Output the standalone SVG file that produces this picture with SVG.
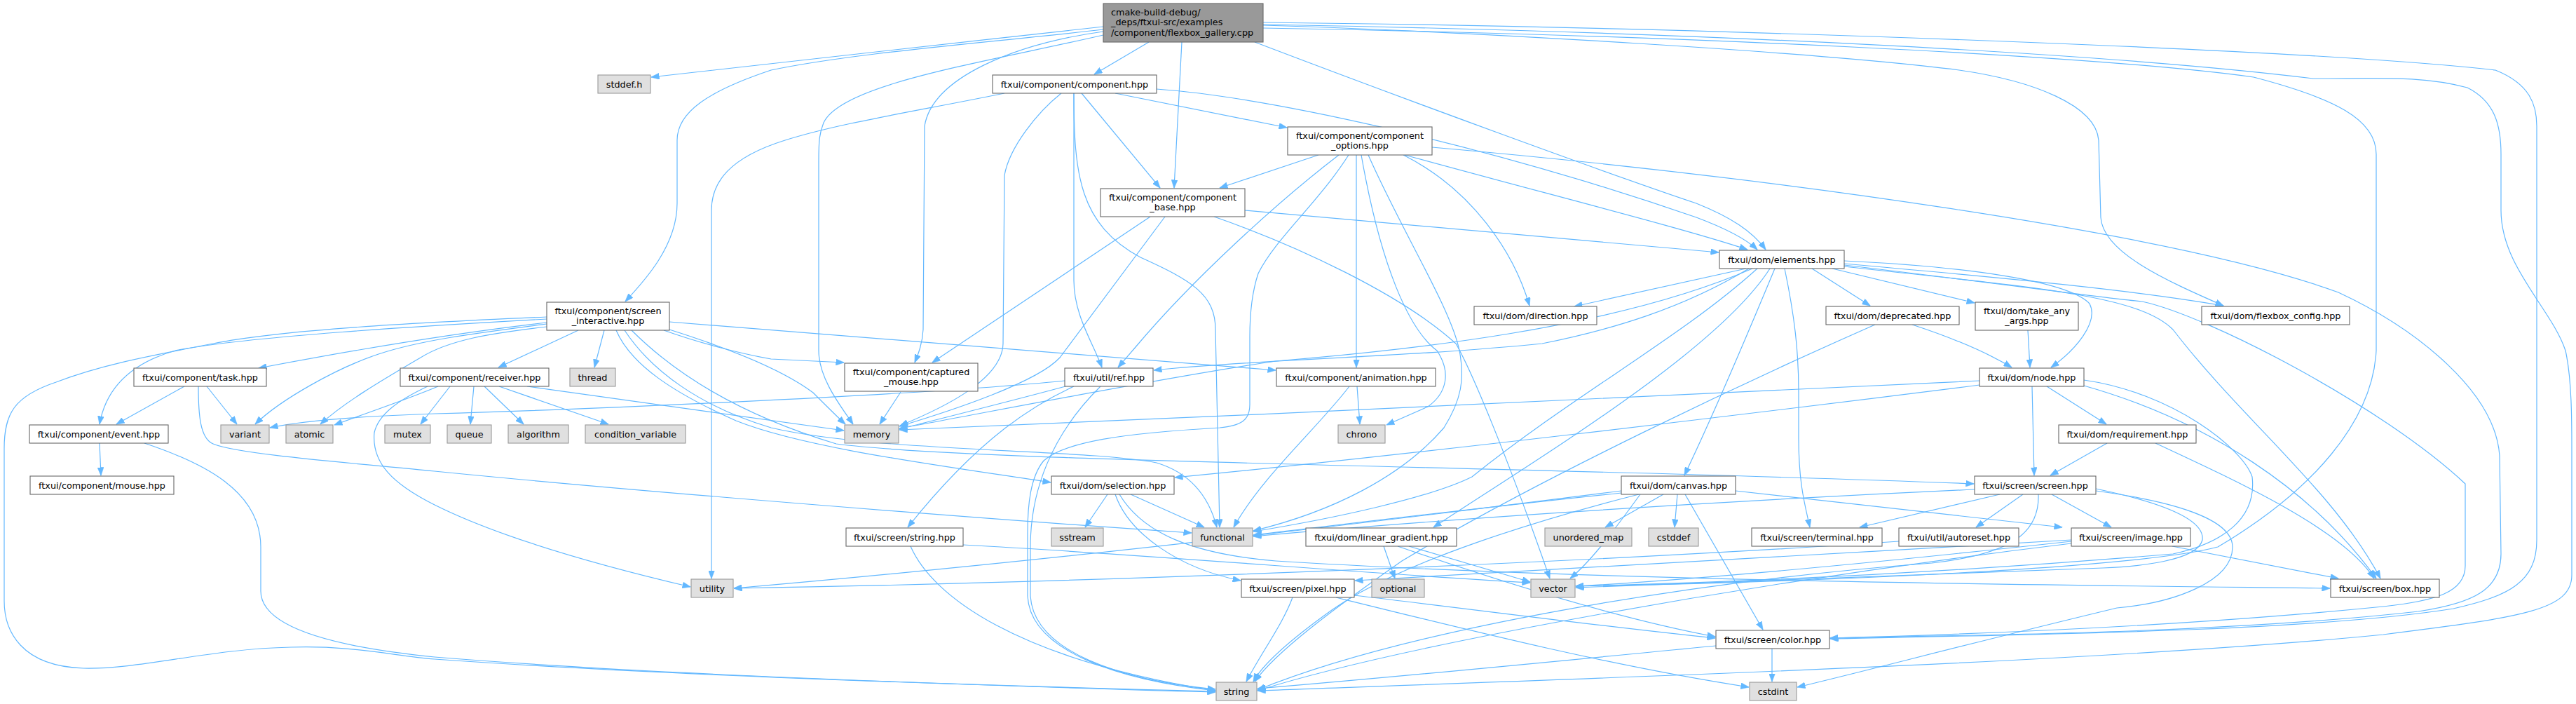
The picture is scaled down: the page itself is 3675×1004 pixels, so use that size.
<svg xmlns="http://www.w3.org/2000/svg" width="3675" height="1004" viewBox="0 0 3675 1004">
<style>
.n rect{fill:#fff;stroke:#666;stroke-width:1.1}
.x rect{fill:#e0e0e0;stroke:#999;stroke-width:1.1}
.m rect{fill:#999;stroke:#666;stroke-width:1.1}
text{font-family:"DejaVu Sans","Liberation Sans",sans-serif;font-size:12.8px;fill:#000}
.c{text-anchor:middle}
#edges path{fill:none;stroke:#63b8ff;stroke-width:1.2;marker-end:url(#ah)}
</style>
<defs>
<marker id="ah" viewBox="0 0 12 9" refX="11.5" refY="4.5" markerWidth="12" markerHeight="9" orient="auto" markerUnits="userSpaceOnUse"><path d="M0,0 L12,4.5 L0,9 z" fill="#63b8ff" stroke="#63b8ff" stroke-width="0.5"/></marker>
</defs>
<rect width="3675" height="1004" fill="#fff"/>
<g id="edges">
<path d="M1574,38 C1350,62 1100,92 929,110"/>
<path d="M1574,42 C1400,62 1220,75 1100,100 C1010,130 966,160 966,200 L966,290 C966,350 920,400 892,430"/>
<path d="M1574,45 C1450,62 1330,110 1319,180 L1317,470 C1316,490 1310,505 1305,517"/>
<path d="M1574,50 C1400,90 1200,120 1175,175 C1169,190 1168,200 1168,230 L1168,500 C1168,540 1200,580 1217,605"/>
<path d="M1639,60 L1561,106"/>
<path d="M1686,60 L1675,268"/>
<path d="M1790,60 C2000,140 2300,250 2420,290 C2470,310 2500,330 2519,356"/>
<path d="M1802,36 C2100,45 2600,75 2795,100 C2900,115 2990,150 2994,200 L2997,310 C3000,360 3090,400 3172,436"/>
<path d="M1802,32 C2400,38 3300,70 3560,100 C3610,120 3619,150 3619,180 L3619,770 C3619,830 3580,850 3500,868 C3300,900 2900,905 2611,911"/>
<path d="M1802,35 C2400,45 3000,75 3300,112 C3400,112 3456,108 3520,125 C3560,145 3568,180 3568,220 L3568,300 C3568,380 3640,440 3660,500 C3669,540 3669,600 3669,640 L3669,820 C3669,870 3600,880 3400,905 C3000,945 2200,970 1794,985"/>
<path d="M1802,40 C2400,50 3000,80 3215,110 C3330,140 3390,170 3390,220 L3390,500 C3385,600 3300,700 3164,780 C3050,810 2600,830 2248,836"/>
<path d="M1433,133 C1300,160 1200,175 1120,200 C1040,225 1015,260 1015,300 L1015,825"/>
<path d="M1543,133 L1655,268"/>
<path d="M1591,133 L1836,182"/>
<path d="M1650,127 C1800,138 2100,200 2420,310 C2460,325 2490,340 2507,356"/>
<path d="M1514,133 C1480,160 1440,210 1433,250 L1431,490 C1430,540 1350,580 1284,607"/>
<path d="M1532,133 L1532,400 C1532,450 1560,490 1572,524"/>
<path d="M1532,133 C1532,250 1540,320 1627,367 C1700,400 1734,420 1734,470 L1740,752"/>
<path d="M1641,309 L1330,517"/>
<path d="M1662,309 L1512,510 C1480,545 1360,585 1283,608"/>
<path d="M1732,309 C1850,350 2000,420 2077,490 C2100,530 2150,650 2211,825"/>
<path d="M1776,300 L2452,360"/>
<path d="M1881,221 L1740,268"/>
<path d="M1910,221 C1820,290 1700,400 1620,495 L1595,524"/>
<path d="M1935,221 L1935,524"/>
<path d="M1942,221 C1970,380 2010,470 2050,500 C2070,530 2065,560 2037,580 L1978,606"/>
<path d="M1952,221 C2000,330 2070,440 2082,500 C2090,540 2085,570 2060,610 C2000,680 1900,730 1788,757"/>
<path d="M1924,221 C1880,290 1820,340 1795,390 C1785,420 1783,450 1783,480 L1783,577 C1783,600 1770,607 1740,610 C1600,618 1520,630 1489,657 C1470,680 1466,720 1466,760 L1466,850 C1470,930 1600,970 1734,985"/>
<path d="M2002,221 C2100,270 2160,360 2182,436"/>
<path d="M2004,221 C2200,275 2400,325 2493,356"/>
<path d="M2043,210 C2500,250 3100,330 3336,417 C3450,470 3560,560 3566,650 L3568,790 C3568,840 3530,860 3450,872 C3200,900 2900,905 2611,910"/>
<path d="M780,460 C650,475 500,500 369,525"/>
<path d="M780,455 C600,465 350,480 250,500 C180,520 150,560 142,605"/>
<path d="M780,462 C680,475 600,485 540,505 C480,525 400,570 364,605"/>
<path d="M780,466 C700,475 640,485 600,510 C540,545 490,575 457,605"/>
<path d="M780,452 C600,460 400,470 304,490 C200,510 140,522 80,545 C20,565 6,590 6,640 L6,857 C6,900 30,950 119,953 C200,955 300,925 415,923 C500,920 560,935 620,940 C900,960 1300,975 1734,986"/>
<path d="M825,471 L711,524"/>
<path d="M862,471 L848,524"/>
<path d="M879,471 C900,520 960,560 1050,600 C1150,640 1350,665 1499,688"/>
<path d="M891,471 C930,530 1000,580 1100,610 C1250,645 1550,640 1650,660 C1700,675 1725,710 1736,752"/>
<path d="M901,471 C960,530 1050,590 1193,633 C1400,660 2200,665 2816,690"/>
<path d="M947,471 C1000,490 1060,505 1100,512 L1204,517"/>
<path d="M955,470 C1050,500 1120,530 1160,560 C1180,580 1195,595 1206,605"/>
<path d="M955,459 C1300,485 1600,510 1820,528"/>
<path d="M263,551 L166,605"/>
<path d="M295,551 L338,605"/>
<path d="M283,551 C283,590 285,625 304,633 C340,648 500,660 620,672 C900,700 1400,740 1700,760"/>
<path d="M142,632 L144,678"/>
<path d="M206,632 C290,660 372,700 372,780 L372,843 C372,900 500,925 620,937 C900,960 1300,975 1734,987"/>
<path d="M625,551 C580,570 520,590 477,606"/>
<path d="M642,551 L600,605"/>
<path d="M676,551 L671,605"/>
<path d="M691,551 L747,605"/>
<path d="M712,551 L868,605"/>
<path d="M752,551 L1204,614"/>
<path d="M610,551 C570,570 540,590 534,617 C530,660 560,690 620,720 C720,770 870,810 985,837"/>
<path d="M1285,559 L1255,605"/>
<path d="M1519,543 C1300,565 800,585 620,590 C500,594 430,600 385,610"/>
<path d="M1520,551 C1450,570 1350,595 1283,612"/>
<path d="M1532,551 C1480,575 1400,620 1295,752"/>
<path d="M1570,551 C1500,620 1470,700 1470,780 L1470,850 C1475,930 1600,970 1734,983"/>
<path d="M1580,705 L1548,752"/>
<path d="M1613,705 L1718,752"/>
<path d="M1591,705 C1610,760 1680,810 1770,828"/>
<path d="M1597,705 C1630,760 1700,790 1820,800 C2300,830 3000,835 3324,839"/>
<path d="M1299,779 C1330,850 1450,940 1734,985"/>
<path d="M1374,777 C1700,795 1900,815 2183,831"/>
<path d="M1844,852 C1830,890 1800,930 1778,972"/>
<path d="M1906,852 C2100,900 2300,950 2495,980"/>
<path d="M1932,849 C2150,875 2300,895 2447,910"/>
<path d="M2528,925 L2528,972"/>
<path d="M2448,921 C2200,945 2000,965 1794,982"/>
<path d="M2491,383 L2246,437"/>
<path d="M2495,383 C2400,440 2300,470 2200,490 C2000,510 1800,512 1646,528"/>
<path d="M2500,383 C2300,470 2000,500 1820,515 C1650,540 1400,590 1283,611"/>
<path d="M2507,383 C2400,480 2250,560 2100,680 C2040,710 1900,740 1788,758"/>
<path d="M2532,383 C2500,460 2450,580 2403,678"/>
<path d="M2525,383 C2450,500 2200,650 2045,752"/>
<path d="M2546,383 C2560,450 2566,500 2566,560 L2566,625 C2566,690 2575,720 2582,752"/>
<path d="M2585,383 L2668,436"/>
<path d="M2614,383 L2817,432"/>
<path d="M2631,372 C2800,380 2950,400 2981,433 C2995,460 2960,500 2926,524"/>
<path d="M2631,376 C2900,400 3050,415 3172,436"/>
<path d="M2631,380 C2900,410 3050,420 3100,470 C3200,600 3330,700 3396,825"/>
<path d="M2631,378 C2900,410 3000,425 3056,430 C3150,450 3400,580 3517,690 L3517,807 C3517,845 3474,857 3400,865 C3100,895 2800,905 2611,910"/>
<path d="M2824,543 C2400,563 1800,592 1283,613"/>
<path d="M2824,549 C2500,590 2000,650 1676,681"/>
<path d="M2920,551 L3005,605"/>
<path d="M2899,551 L2902,678"/>
<path d="M2973,542 C3100,560 3200,640 3213,680 C3220,740 3170,775 3100,790 C2800,815 2500,830 2248,836"/>
<path d="M2973,550 C3150,600 3300,700 3390,825"/>
<path d="M3006,632 L2925,678"/>
<path d="M3075,632 C3200,690 3344,757 3387,825"/>
<path d="M2728,463 C2780,480 2830,500 2870,524"/>
<path d="M2675,463 C2500,540 2200,680 2000,800 C1900,870 1820,930 1790,972"/>
<path d="M2893,471 L2896,524"/>
<path d="M2393,705 L2389,752"/>
<path d="M2373,705 L2290,752"/>
<path d="M2404,705 L2515,898"/>
<path d="M2476,700 L2942,752"/>
<path d="M2313,703 C2100,725 1900,750 1788,763"/>
<path d="M2338,705 C2200,740 2000,800 1900,870 C1830,920 1800,950 1788,972"/>
<path d="M2313,700 C2000,740 1500,800 1047,839"/>
<path d="M2340,705 C2300,760 2270,800 2240,825"/>
<path d="M1974,779 L1990,825"/>
<path d="M2010,779 L2183,830"/>
<path d="M1994,779 C2200,850 2350,890 2447,908"/>
<path d="M2853,705 L2653,752"/>
<path d="M2886,705 L2819,752"/>
<path d="M2927,705 L3012,752"/>
<path d="M2817,698 C2400,717 2000,745 1788,765"/>
<path d="M2908,705 C2910,760 2870,790 2756,803 C2400,830 2000,900 1794,984"/>
<path d="M2990,700 C3100,715 3185,740 3185,780 C3185,830 3100,860 3020,867 C2800,920 2650,960 2564,980"/>
<path d="M2990,697 C3100,720 3145,745 3142,770 C3135,800 3050,808 3000,810 C2700,820 2450,832 2248,838"/>
<path d="M3099,779 L3336,825"/>
<path d="M2955,770 C2600,790 2200,815 1933,828"/>
<path d="M2955,775 C2500,830 2000,920 1794,985"/>
<path d="M2955,772 C2700,800 2450,825 2248,836"/>
<path d="M2709,772 C2300,800 1600,830 1047,839"/>
<path d="M1936,551 L1940,605"/>
<path d="M1925,551 C1880,610 1800,680 1760,752"/>
</g>
<g id="main" class="m"><rect x="1574" y="5" width="228" height="55"/><text x="1585" y="21.5">cmake-build-debug/</text><text x="1585" y="36">_deps/ftxui-src/examples</text><text x="1585" y="50.5">/component/flexbox_gallery.cpp</text></g>
<g id="stddef" class="x"><rect x="853" y="107" width="75" height="26"/><text class="c" x="890.5" y="124.5">stddef.h</text></g>
<g id="component" class="n"><rect x="1416" y="107" width="234" height="26"/><text class="c" x="1533" y="124.5">ftxui/component/component.hpp</text></g>
<g id="component_base" class="n"><rect x="1570" y="269" width="206" height="40"/><text class="c" x="1673" y="285.5">ftxui/component/component</text><text class="c" x="1673" y="299.5">_base.hpp</text></g>
<g id="component_options" class="n"><rect x="1837" y="181" width="206" height="40"/><text class="c" x="1940" y="197.5">ftxui/component/component</text><text class="c" x="1940" y="211.5">_options.hpp</text></g>
<g id="direction" class="n"><rect x="2103" y="437" width="175" height="26"/><text class="c" x="2190.5" y="454.5">ftxui/dom/direction.hpp</text></g>
<g id="elements" class="n"><rect x="2453" y="357" width="178" height="26"/><text class="c" x="2542" y="374.5">ftxui/dom/elements.hpp</text></g>
<g id="deprecated" class="n"><rect x="2605" y="437" width="190" height="26"/><text class="c" x="2700" y="454.5">ftxui/dom/deprecated.hpp</text></g>
<g id="take_any_args" class="n"><rect x="2818" y="431" width="147" height="40"/><text class="c" x="2891.5" y="447.5">ftxui/dom/take_any</text><text class="c" x="2891.5" y="461.5">_args.hpp</text></g>
<g id="flexbox_config" class="n"><rect x="3141" y="437" width="211" height="26"/><text class="c" x="3246.5" y="454.5">ftxui/dom/flexbox_config.hpp</text></g>
<g id="screen_interactive" class="n"><rect x="780" y="431" width="175" height="40"/><text class="c" x="867.5" y="447.5">ftxui/component/screen</text><text class="c" x="867.5" y="461.5">_interactive.hpp</text></g>
<g id="task" class="n"><rect x="191" y="525" width="189" height="26"/><text class="c" x="285.5" y="542.5">ftxui/component/task.hpp</text></g>
<g id="event" class="n"><rect x="42" y="606" width="198" height="26"/><text class="c" x="141" y="623.5">ftxui/component/event.hpp</text></g>
<g id="variant" class="x"><rect x="315" y="606" width="69" height="26"/><text class="c" x="349.5" y="623.5">variant</text></g>
<g id="atomic" class="x"><rect x="408" y="606" width="67" height="26"/><text class="c" x="441.5" y="623.5">atomic</text></g>
<g id="mutex" class="x"><rect x="549" y="606" width="65" height="26"/><text class="c" x="581.5" y="623.5">mutex</text></g>
<g id="receiver" class="n"><rect x="571" y="525" width="212" height="26"/><text class="c" x="677" y="542.5">ftxui/component/receiver.hpp</text></g>
<g id="thread" class="x"><rect x="813" y="525" width="65" height="26"/><text class="c" x="845.5" y="542.5">thread</text></g>
<g id="queue" class="x"><rect x="638" y="606" width="63" height="26"/><text class="c" x="669.5" y="623.5">queue</text></g>
<g id="algorithm" class="x"><rect x="725" y="606" width="86" height="26"/><text class="c" x="768" y="623.5">algorithm</text></g>
<g id="condition_variable" class="x"><rect x="835" y="606" width="143" height="26"/><text class="c" x="906.5" y="623.5">condition_variable</text></g>
<g id="utility" class="x"><rect x="986" y="826" width="60" height="26"/><text class="c" x="1016" y="843.5">utility</text></g>
<g id="mouse" class="n"><rect x="43" y="679" width="205" height="26"/><text class="c" x="145.5" y="696.5">ftxui/component/mouse.hpp</text></g>
<g id="captured_mouse" class="n"><rect x="1205" y="518" width="190" height="40"/><text class="c" x="1300" y="534.5">ftxui/component/captured</text><text class="c" x="1300" y="548.5">_mouse.hpp</text></g>
<g id="memory" class="x"><rect x="1205" y="606" width="77" height="26"/><text class="c" x="1243.5" y="623.5">memory</text></g>
<g id="ref" class="n"><rect x="1519" y="525" width="126" height="26"/><text class="c" x="1582" y="542.5">ftxui/util/ref.hpp</text></g>
<g id="selection" class="n"><rect x="1500" y="679" width="175" height="26"/><text class="c" x="1587.5" y="696.5">ftxui/dom/selection.hpp</text></g>
<g id="screen_string" class="n"><rect x="1207" y="753" width="167" height="26"/><text class="c" x="1290.5" y="770.5">ftxui/screen/string.hpp</text></g>
<g id="sstream" class="x"><rect x="1500" y="753" width="74" height="26"/><text class="c" x="1537" y="770.5">sstream</text></g>
<g id="functional" class="x"><rect x="1701" y="753" width="86" height="26"/><text class="c" x="1744" y="770.5">functional</text></g>
<g id="pixel" class="n"><rect x="1771" y="826" width="161" height="26"/><text class="c" x="1851.5" y="843.5">ftxui/screen/pixel.hpp</text></g>
<g id="string" class="x"><rect x="1735" y="973" width="58" height="26"/><text class="c" x="1764" y="990.5">string</text></g>
<g id="animation" class="n"><rect x="1821" y="525" width="227" height="26"/><text class="c" x="1934.5" y="542.5">ftxui/component/animation.hpp</text></g>
<g id="chrono" class="x"><rect x="1909" y="606" width="67" height="26"/><text class="c" x="1942.5" y="623.5">chrono</text></g>
<g id="linear_gradient" class="n"><rect x="1863" y="753" width="215" height="26"/><text class="c" x="1970.5" y="770.5">ftxui/dom/linear_gradient.hpp</text></g>
<g id="unordered_map" class="x"><rect x="2204" y="753" width="124" height="26"/><text class="c" x="2266" y="770.5">unordered_map</text></g>
<g id="cstddef" class="x"><rect x="2352" y="753" width="71" height="26"/><text class="c" x="2387.5" y="770.5">cstddef</text></g>
<g id="canvas" class="n"><rect x="2313" y="679" width="163" height="26"/><text class="c" x="2394.5" y="696.5">ftxui/dom/canvas.hpp</text></g>
<g id="optional" class="x"><rect x="1957" y="826" width="75" height="26"/><text class="c" x="1994.5" y="843.5">optional</text></g>
<g id="vector" class="x"><rect x="2184" y="826" width="63" height="26"/><text class="c" x="2215.5" y="843.5">vector</text></g>
<g id="node" class="n"><rect x="2824" y="525" width="149" height="26"/><text class="c" x="2898.5" y="542.5">ftxui/dom/node.hpp</text></g>
<g id="requirement" class="n"><rect x="2937" y="606" width="196" height="26"/><text class="c" x="3035" y="623.5">ftxui/dom/requirement.hpp</text></g>
<g id="screen" class="n"><rect x="2817" y="679" width="173" height="26"/><text class="c" x="2903.5" y="696.5">ftxui/screen/screen.hpp</text></g>
<g id="terminal" class="n"><rect x="2499" y="753" width="186" height="26"/><text class="c" x="2592" y="770.5">ftxui/screen/terminal.hpp</text></g>
<g id="autoreset" class="n"><rect x="2709" y="753" width="171" height="26"/><text class="c" x="2794.5" y="770.5">ftxui/util/autoreset.hpp</text></g>
<g id="image" class="n"><rect x="2955" y="753" width="170" height="26"/><text class="c" x="3040" y="770.5">ftxui/screen/image.hpp</text></g>
<g id="color" class="n"><rect x="2448" y="899" width="162" height="26"/><text class="c" x="2529" y="916.5">ftxui/screen/color.hpp</text></g>
<g id="cstdint" class="x"><rect x="2496" y="973" width="67" height="26"/><text class="c" x="2529.5" y="990.5">cstdint</text></g>
<g id="box" class="n"><rect x="3325" y="826" width="155" height="26"/><text class="c" x="3402.5" y="843.5">ftxui/screen/box.hpp</text></g>
</svg>
